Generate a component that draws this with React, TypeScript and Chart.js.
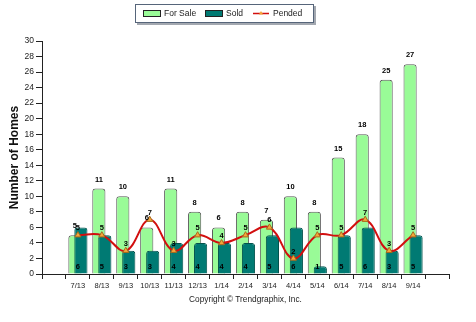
import React, { useEffect, useRef } from 'react';
import { Chart, registerables } from 'chart.js';

Chart.register(...registerables);

const months = ['7/13', '8/13', '9/13', '10/13', '11/13', '12/13', '1/14', '2/14', '3/14', '4/14', '5/14', '6/14', '7/14', '8/14', '9/14'];
const forSale = [5, 11, 10, 6, 11, 8, 6, 8, 7, 10, 8, 15, 18, 25, 27];
const sold = [6, 5, 3, 3, 4, 4, 4, 4, 5, 6, 1, 5, 6, 3, 5];
const pended = [5, 5, 3, 7, 3, 5, 4, 5, 6, 2, 5, 5, 7, 3, 5];
const yMin = 0;
const yMax = 30;
const yStep = 2;
const yTitle = 'Number of Homes';
const copyright = 'Copyright \u00A9 Trendgraphix, Inc.';

const FONT = '"Liberation Sans", Arial, sans-serif';
const SALE_FILL = '#99fb97';
const SALE_BORDER = '#5b5b5b';
const SOLD_FILL = '#007a73';
const SOLD_BORDER = '#03524d';
const LINE_COLOR = '#d20f0f';
const POINT_FILL = '#f5a53a';
const POINT_BORDER = '#a86a1c';

// pad with an empty slot at each end so ticks fall one slot in from the axis ends
const labels = ['', ...months, ''];
const pad = (a: number[]) => [null, ...a, null];

const layerPlugin = {
  id: 'layerOrder',
  beforeDatasetDraw(chart: any, args: any) {
    if (args.index === 1) return false;
  },
  afterDatasetDraw(chart: any, args: any) {
    if (args.index === 0) {
      const meta = chart.getDatasetMeta(1);
      if (meta && meta.controller) meta.controller.draw();
    }
  },
};

const valueLabels = {
  id: 'valueLabels',
  afterDatasetsDraw(chart: any) {
    const ctx = chart.ctx;
    const xs = chart.scales.x;
    const ys = chart.scales.y;
    ctx.save();
    ctx.font = 'bold 7.5px ' + FONT;
    ctx.fillStyle = '#000';
    ctx.textAlign = 'center';
    ctx.textBaseline = 'middle';
    const m0 = chart.getDatasetMeta(0);
    m0.data.forEach((el: any, i: number) => {
      const v = chart.data.datasets[0].data[i];
      if (v == null) return;
      ctx.fillText(String(v), el.x, el.y - 9);
    });
    const d1 = chart.data.datasets[1].data;
    d1.forEach((v: any, i: number) => {
      if (v == null) return;
      ctx.fillText(String(v), xs.getPixelForValue(i), ys.bottom - 7.5);
    });
    const m2 = chart.getDatasetMeta(2);
    m2.data.forEach((el: any, i: number) => {
      const v = chart.data.datasets[2].data[i];
      if (v == null) return;
      ctx.fillText(String(v), el.x, el.y - 7);
    });
    ctx.restore();
  },
};

const boxLegend = {
  id: 'boxLegend',
  afterDraw(chart: any) {
    const ctx = chart.ctx;
    const ds = chart.data.datasets;
    ctx.save();
    // shadow
    ctx.fillStyle = '#a3a8b0';
    ctx.fillRect(137, 6, 179, 19);
    // box
    ctx.fillStyle = '#ffffff';
    ctx.fillRect(135.5, 4.5, 178, 18);
    ctx.strokeStyle = '#56657a';
    ctx.lineWidth = 1;
    ctx.strokeRect(135.5, 4.5, 178, 18);

    ctx.font = '8.5px ' + FONT;
    ctx.fillStyle = '#1a1a1a';
    ctx.textAlign = 'left';
    ctx.textBaseline = 'middle';
    const ty = 14;
    // For Sale
    ctx.fillStyle = SALE_FILL;
    ctx.fillRect(143.5, 10.5, 17, 6);
    ctx.strokeStyle = '#222';
    ctx.strokeRect(143.5, 10.5, 17, 6);
    ctx.fillStyle = '#1a1a1a';
    ctx.fillText(ds[0].label, 164, ty);
    // Sold
    ctx.fillStyle = SOLD_FILL;
    ctx.fillRect(205.5, 10.5, 17, 6);
    ctx.strokeStyle = '#222';
    ctx.strokeRect(205.5, 10.5, 17, 6);
    ctx.fillStyle = '#1a1a1a';
    ctx.fillText(ds[1].label, 226, ty);
    // Pended
    ctx.strokeStyle = LINE_COLOR;
    ctx.lineWidth = 1.5;
    ctx.beginPath();
    ctx.moveTo(253, 13.5);
    ctx.lineTo(269, 13.5);
    ctx.stroke();
    ctx.fillStyle = POINT_FILL;
    ctx.beginPath();
    ctx.moveTo(261, 11);
    ctx.lineTo(263.2, 14.5);
    ctx.lineTo(258.8, 14.5);
    ctx.closePath();
    ctx.fill();
    ctx.fillStyle = '#1a1a1a';
    ctx.fillText(ds[2].label, 273, ty);
    ctx.restore();
  },
};

export default function App() {
  const ref = useRef<HTMLCanvasElement | null>(null);

  useEffect(() => {
    if (!ref.current) return;
    Chart.defaults.font.family = FONT;
    const chart = new Chart(ref.current, {
      type: 'bar',
      data: {
        labels,
        datasets: [
          {
            type: 'bar',
            label: 'For Sale',
            data: pad(forSale),
            backgroundColor: SALE_FILL,
            borderColor: SALE_BORDER,
            borderWidth: 1,
            borderSkipped: 'bottom',
            borderRadius: { topLeft: 3, topRight: 3, bottomLeft: 0, bottomRight: 0 },
            categoryPercentage: 0.5,
            barPercentage: 2.2,
            order: 1,
          },
          {
            type: 'bar',
            label: 'Sold',
            data: pad(sold),
            backgroundColor: SOLD_FILL,
            borderColor: SOLD_BORDER,
            borderWidth: 1,
            borderSkipped: 'bottom',
            borderRadius: { topLeft: 3, topRight: 3, bottomLeft: 0, bottomRight: 0 },
            categoryPercentage: 0.5,
            barPercentage: 2.2,
            order: 1,
          },
          {
            type: 'line',
            label: 'Pended',
            data: pad(pended),
            borderColor: LINE_COLOR,
            borderWidth: 2,
            tension: 0.4,
            pointStyle: 'triangle',
            pointRadius: 3.5,
            pointBackgroundColor: POINT_FILL,
            pointBorderColor: POINT_BORDER,
            pointBorderWidth: 1,
            fill: false,
            order: 0,
          },
        ] as any,
      },
      options: {
        animation: false,
        responsive: false,
        events: [],
        layout: { padding: { top: 41, right: 27, bottom: 0, left: 0 } },
        plugins: {
          legend: { display: false },
          tooltip: { enabled: false },
        },
        scales: {
          x: {
            grid: { display: true, drawOnChartArea: false, drawTicks: true, tickLength: 5, color: '#222' },
            border: { display: true, color: '#222', width: 1 },
            ticks: {
              autoSkip: false,
              maxRotation: 0,
              minRotation: 0,
              padding: 2,
              color: '#222',
              font: { size: 7.5, family: '"Liberation Sans Narrow", ' + FONT },
            },
            title: {
              display: true,
              text: copyright,
              color: '#222',
              font: { size: 8.3 },
              padding: { top: 0, bottom: 17 },
            },
            afterFit: (s: any) => {
              s.height = 48;
            },
          },
          y: {
            min: yMin,
            max: yMax,
            grid: { display: true, drawOnChartArea: false, drawTicks: true, tickLength: 6, color: '#222' },
            border: { display: true, color: '#222', width: 1 },
            ticks: { stepSize: yStep, padding: 2, color: '#222', font: { size: 8.5 } },
            title: {
              display: true,
              text: yTitle,
              color: '#111',
              font: { size: 12, weight: 'bold' },
              padding: { top: 7, bottom: 0 },
            },
            afterFit: (s: any) => {
              s.width = 42;
            },
          },
        },
      } as any,
      plugins: [layerPlugin, valueLabels, boxLegend],
    });
    return () => chart.destroy();
  }, []);

  return (
    <div style={{ position: 'absolute', left: 0, top: 0, width: 476, height: 322, background: '#fff' }}>
      <canvas ref={ref} width={476} height={322} />
    </div>
  );
}
